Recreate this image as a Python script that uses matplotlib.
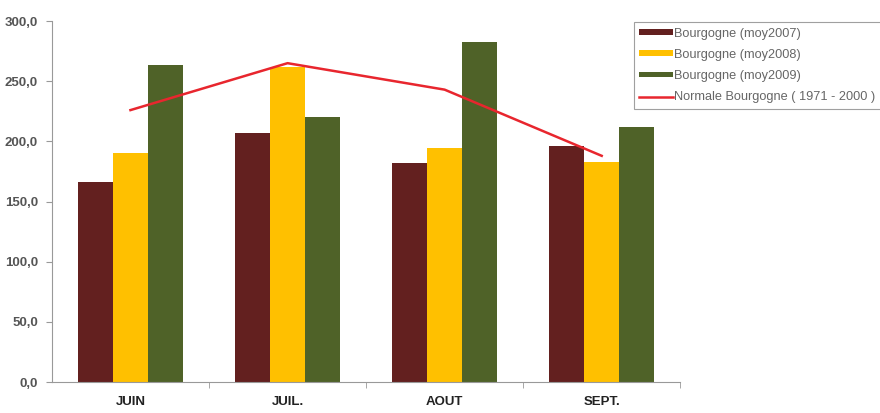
import numpy as np
import matplotlib
matplotlib.use("Agg")
import matplotlib.pyplot as plt

plt.rcParams['font.family'] = ['Liberation Sans', 'DejaVu Sans']

# Monthly values per year and the 1971-2000 normal
months = ["JUIN", "JUIL.", "AOUT", "SEPT."]
moy2007 = [166.5, 207.0, 182.0, 196.0]
moy2008 = [190.0, 262.0, 194.5, 183.0]
moy2009 = [263.5, 220.5, 283.0, 212.0]
normale = [226.0, 265.0, 243.0, 188.0]

labels = ["Bourgogne (moy2007)", "Bourgogne (moy2008)", "Bourgogne (moy2009)",
          "Normale Bourgogne ( 1971 - 2000 )"]
colors = ["#63201f", "#ffc000", "#4f6228"]
line_color = "#e8262e"

fig = plt.figure(figsize=(8.8, 4.13), dpi=100)
ax = fig.add_axes([0.059, 0.075, 0.714, 0.874])

x = np.arange(len(months))
w = 0.223
handles = []
for i, (vals, c) in enumerate(zip([moy2007, moy2008, moy2009], colors)):
    b = ax.bar(x + (i - 1) * w, vals, w, color=c, linewidth=0, label=labels[i])
    handles.append(b)
ln, = ax.plot(x, normale, color=line_color, lw=1.8, label=labels[3])
handles.append(ln)

ax.set_xlim(-0.5, 3.5)
ax.set_ylim(0, 300)
ax.set_yticks(np.arange(0, 301, 50))
ax.set_yticklabels([f"{v:.1f}".replace(".", ",") for v in np.arange(0, 301, 50)],
                   fontsize=9.5, fontweight='bold', color='#555555')
ax.set_xticks(x)
ax.set_xticklabels(months, fontsize=9.5, fontweight='bold', color='#222222')
ax.set_xticks([0.5, 1.5, 2.5, 3.5], minor=True)
ax.tick_params(axis='x', which='major', length=0, pad=10)
ax.tick_params(axis='x', which='minor', length=4, color='#999999', direction='out')
ax.tick_params(axis='y', length=4, color='#999999', direction='out', pad=6)

for s in ['top', 'right']:
    ax.spines[s].set_visible(False)
for s in ['left', 'bottom']:
    ax.spines[s].set_color('#999999')
    ax.spines[s].set_linewidth(0.8)

leg = fig.legend(handles=handles, labels=labels, loc='upper left',
                 bbox_to_anchor=(0.72, 0.947), bbox_transform=fig.transFigure,
                 fancybox=False, edgecolor='#888888', fontsize=9.2,
                 handlelength=2.6, handleheight=0.3, handletextpad=0.1,
                 labelspacing=0.72, borderpad=0.45, borderaxespad=0)
leg.get_frame().set_linewidth(0.8)
for t in leg.get_texts():
    t.set_color('#666666')

fig.savefig("out.png", dpi=100)
